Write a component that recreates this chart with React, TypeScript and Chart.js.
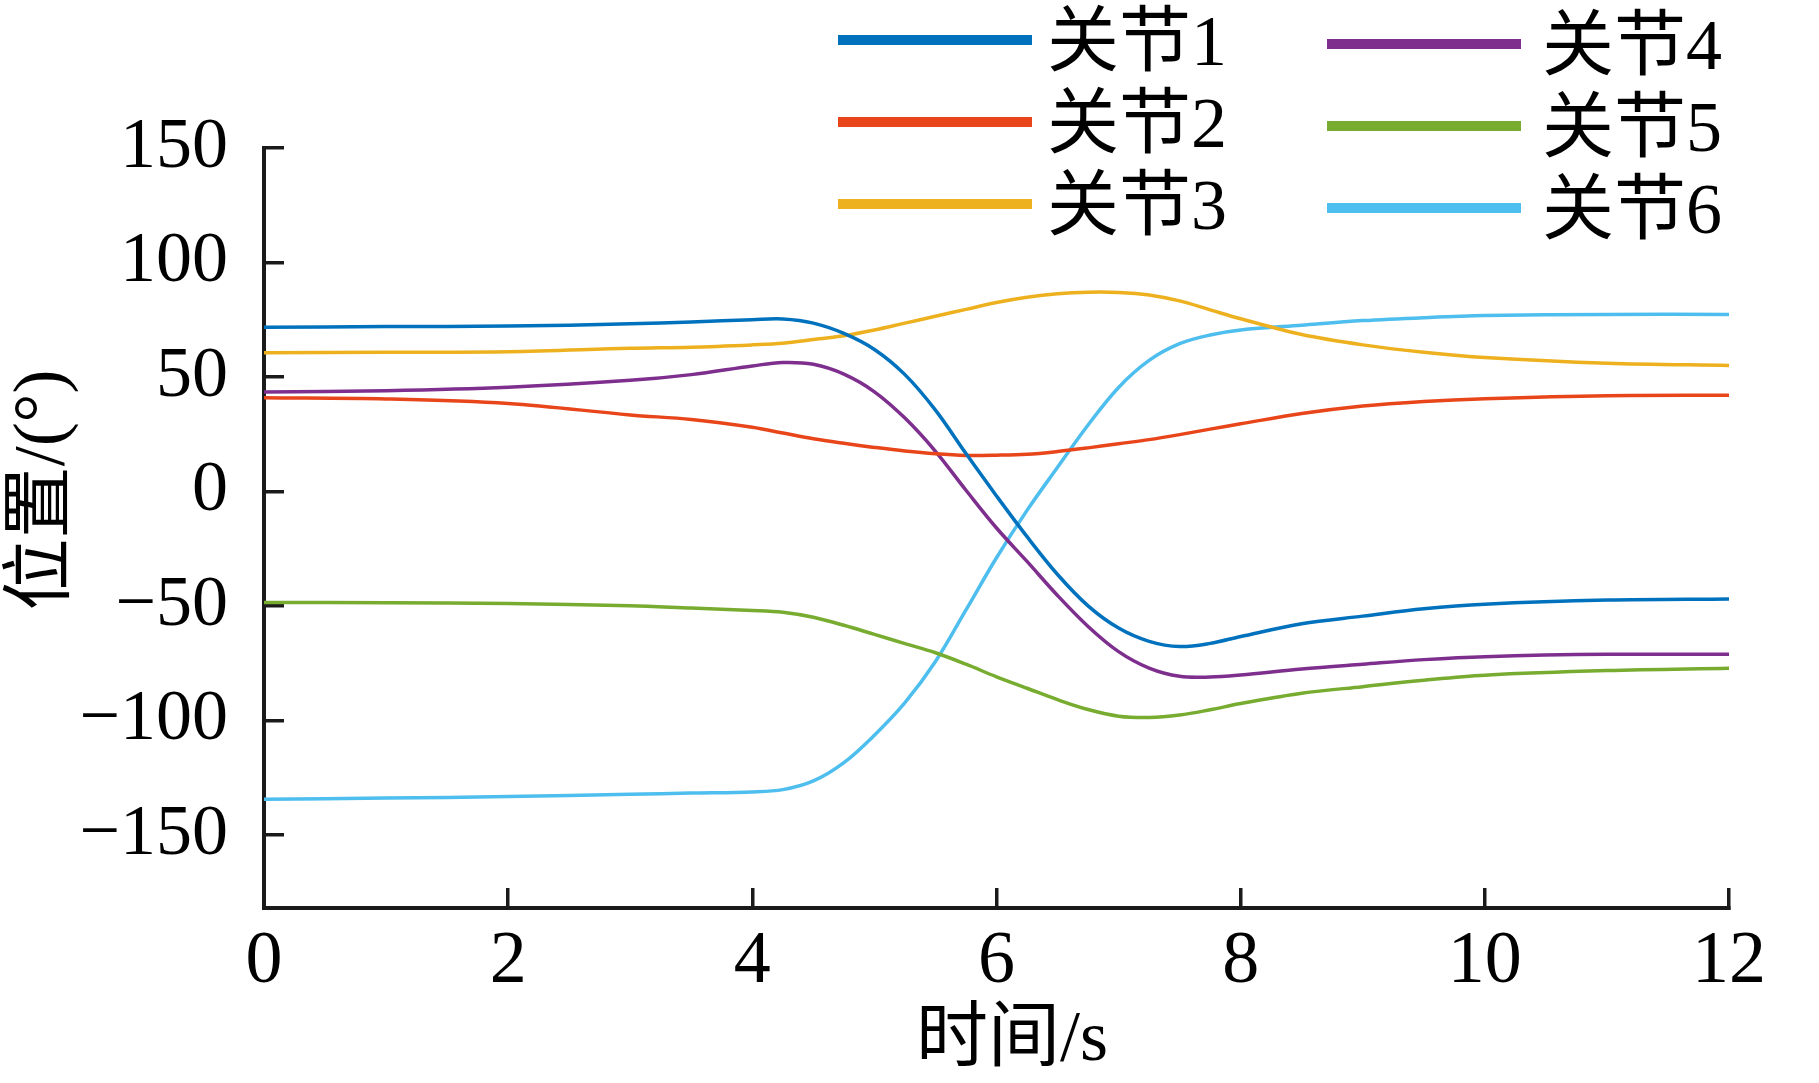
import React, { useEffect, useRef } from "react";
import { Chart, registerables } from "chart.js";

Chart.register(...registerables);

const times = [0, 1, 2, 3, 3.5, 4, 4.25, 4.5, 4.75, 5, 5.25, 5.5, 5.75, 6, 6.25, 6.5, 6.75, 7, 7.25, 7.5, 7.75, 8, 8.5, 9, 9.5, 10, 11, 12];

const joint1 = [71.7, 72, 72.2, 73.2, 74, 75, 75.3, 73.5, 69, 62, 51, 35.5, 16.5, -2, -19.8, -36.3, -50, -59.7, -65.5, -67.8, -66.4, -63.4, -57.8, -54.5, -51.3, -49.3, -47.5, -47];
const joint2 = [40.9, 40.4, 38.4, 33.4, 31.4, 28, 25.5, 23, 21, 19.2, 17.6, 16.4, 15.7, 15.8, 16.2, 17.4, 19, 20.8, 22.6, 24.8, 27.2, 29.5, 34, 37.3, 39.3, 40.5, 41.8, 42];
const joint3 = [60.6, 60.8, 61, 62.5, 63, 64, 64.7, 66.3, 68, 70.5, 73.5, 76.5, 79.5, 82.5, 84.8, 86.3, 87, 86.9, 85.8, 83.2, 79.3, 75.4, 68.5, 64, 60.8, 58.5, 56, 55];
const joint4 = [43.4, 44, 45.5, 48.5, 51, 54.8, 56.3, 55.5, 51.2, 43.5, 32, 17.5, 0.5, -16, -30.6, -45.5, -59, -70, -77.2, -80.8, -81.1, -80.2, -77.6, -75.5, -73.5, -72.2, -71.2, -71.2];
const joint5 = [-48.5, -48.7, -49, -50, -51, -52, -52.8, -55, -58.5, -62.5, -66.5, -70.5, -75.5, -81, -86, -91, -95.3, -98.2, -98.8, -97.7, -95.4, -92.7, -88.2, -85.3, -82.5, -80.3, -78.3, -77.3];
const joint6 = [-134.5, -134, -133.3, -132.3, -131.8, -131.3, -130.3, -126.5, -118.5, -106.5, -92.3, -74.3, -51.8, -29, -8.3, 10.5, 29, 45.4, 57.2, 64.5, 68.3, 70.5, 72.6, 74.6, 75.9, 76.8, 77.3, 77.3];

const seriesLabels = ["关节1", "关节2", "关节3", "关节4", "关节5", "关节6"];
const seriesColors = ["#0072BD", "#E8461A", "#EDB120", "#7E2F8E", "#77AC30", "#4DBEEE"];
const seriesValues = [joint1, joint2, joint3, joint4, joint5, joint6];

const xTicks = [0, 2, 4, 6, 8, 10, 12];
const yTicks = [-150, -100, -50, 0, 50, 100, 150];
const xTitle = "时间/s";
const yTitle = "位置/(°)";

const FONT = '"Liberation Serif", "Times New Roman", "Noto Sans CJK SC", serif';

const decorPlugin = {
  id: "decor",
  afterDraw(chart: any) {
    const ctx = chart.ctx as CanvasRenderingContext2D;
    ctx.save();
    chart.data.datasets.forEach((ds: any, i: number) => {
      const col = Math.floor(i / 3);
      const row = i % 3;
      const lx = col === 0 ? 838 : 1327;
      const tx = col === 0 ? 1047 : 1542;
      const y = (col === 0 ? 40 : 44) + row * 82;
      ctx.strokeStyle = ds.borderColor;
      ctx.lineWidth = 10;
      ctx.lineCap = "butt";
      ctx.beginPath();
      ctx.moveTo(lx, y);
      ctx.lineTo(lx + 194, y);
      ctx.stroke();
      ctx.fillStyle = "#000";
      ctx.font = `72px ${FONT}`;
      ctx.textAlign = "left";
      ctx.textBaseline = "middle";
      ctx.fillText(ds.label, tx, y + 6);
    });
    ctx.fillStyle = "#000";
    ctx.font = `72px ${FONT}`;
    ctx.textAlign = "center";
    ctx.textBaseline = "middle";
    ctx.fillText(xTitle, 1012, 1041);
    ctx.translate(44, 490);
    ctx.rotate(-Math.PI / 2);
    ctx.fillText(yTitle, 0, 0);
    ctx.restore();
  },
};

export default function App() {
  const ref = useRef<HTMLCanvasElement | null>(null);
  useEffect(() => {
    document.body.style.margin = "0";
    document.body.style.overflow = "hidden";
    const canvas = ref.current!;
    const chart = new Chart(canvas, {
      type: "line",
      data: {
        datasets: seriesValues.map((vals, i) => ({
          label: seriesLabels[i],
          data: times.map((t, j) => ({ x: t, y: vals[j] })),
          borderColor: seriesColors[i],
          backgroundColor: seriesColors[i],
          borderWidth: 3.5,
          pointRadius: 0,
          tension: 0.35,
          fill: false,
        })),
      },
      options: {
        animation: false,
        responsive: false,
        devicePixelRatio: 1,
        layout: { padding: { top: 148, right: 90, left: 0, bottom: 0 } },
        plugins: {
          legend: { display: false },
          tooltip: { enabled: false },
          title: { display: false },
        },
        scales: {
          x: {
            type: "linear",
            min: 0,
            max: 12,
            afterFit: (s: any) => { s.height = 175; },
            afterBuildTicks: (s: any) => { s.ticks = xTicks.map((v) => ({ value: v })); },
            border: { display: true, color: "#1a1a1a", width: 4 },
            grid: { drawOnChartArea: false, drawTicks: true, tickLength: -20, color: "#1a1a1a", lineWidth: 3.5 },
            ticks: {
              padding: 30,
              color: "#000",
              font: { family: FONT, size: 74 },
              maxRotation: 0,
              callback: (v: any) => String(v),
            },
          },
          y: {
            type: "linear",
            min: -182,
            max: 150,
            afterFit: (s: any) => { s.width = 264; },
            afterBuildTicks: (s: any) => { s.ticks = yTicks.map((v) => ({ value: v })); },
            border: { display: true, color: "#1a1a1a", width: 4 },
            grid: { drawOnChartArea: false, drawTicks: true, tickLength: -20, color: "#1a1a1a", lineWidth: 3.5 },
            ticks: {
              padding: 56,
              color: "#000",
              font: { family: FONT, size: 72 },
              callback: (v: any) => (Number(v) < 0 ? "\u2212" + Math.abs(Number(v)) : String(v)),
            },
          },
        },
      },
      plugins: [decorPlugin],
    });
    return () => chart.destroy();
  }, []);
  return (
    <div style={{ width: 1819, height: 1083, background: "#fff" }}>
      <canvas ref={ref} width={1819} height={1083} style={{ display: "block", width: 1819, height: 1083 }} />
    </div>
  );
}
